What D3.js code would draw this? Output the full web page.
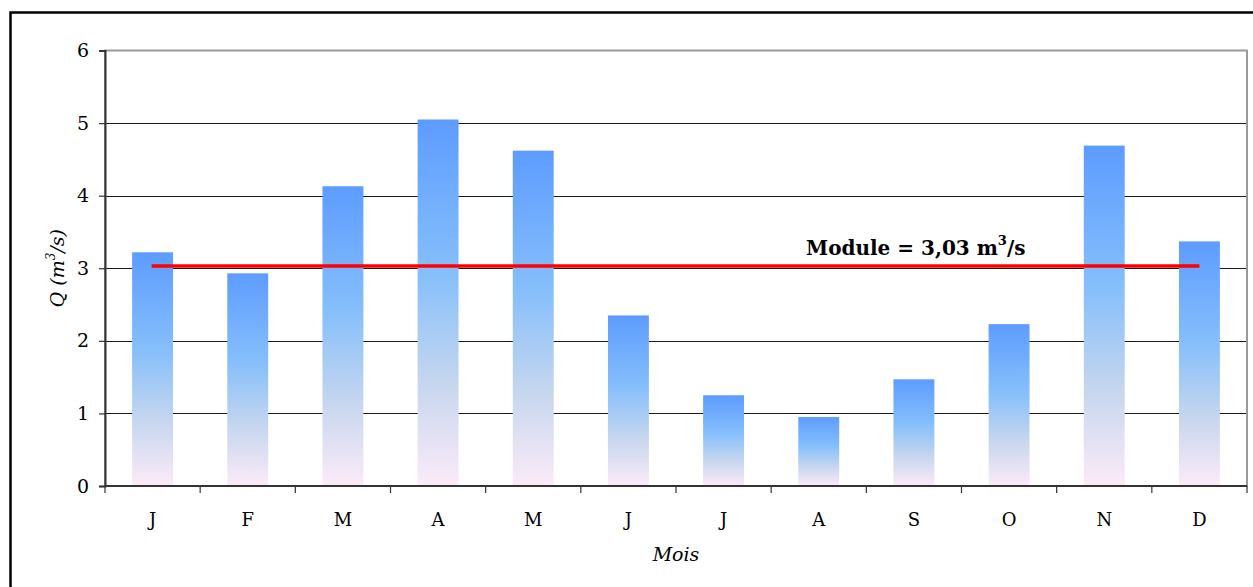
<!DOCTYPE html>
<html>
<head>
<meta charset="utf-8">
<script src="https://cdn.jsdelivr.net/npm/d3@7"></script>
<style>
  html, body { margin: 0; padding: 0; background: #fff; }
  svg { display: block; }
</style>
</head>
<body>
<svg id="chart" width="1253" height="587"></svg>
<script>
// Monthly mean discharge (m³/s)
const months = ["J", "F", "M", "A", "M", "J", "J", "A", "S", "O", "N", "D"];
const discharge = [3.22, 2.93, 4.13, 5.05, 4.62, 2.35, 1.25, 0.95, 1.47, 2.23, 4.69, 3.37];
const moduleValue = 3.03;
const yTicks = [0, 1, 2, 3, 4, 5, 6];

const svg = d3.select("#chart");
const font = "'DejaVu Serif', 'Liberation Serif', serif";

const plotLeft = 105, plotRight = 1247, plotTop = 50.5, plotBottom = 486;

// outer frame (runs past the right and bottom edges)
svg.append("rect")
  .attr("x", 10.5).attr("y", 12.5)
  .attr("width", 1300).attr("height", 700)
  .attr("fill", "none").attr("stroke", "#000").attr("stroke-width", 2.5);

const x = d3.scaleBand()
  .domain(d3.range(months.length))
  .range([plotLeft, plotRight])
  .paddingInner(0.57).paddingOuter(0.285);

const xOuter = d3.scaleBand()
  .domain(d3.range(months.length))
  .range([plotLeft, plotRight]);

const y = d3.scaleLinear().domain([0, 6]).range([plotBottom, plotTop]);

// bar gradient
const defs = svg.append("defs");
const grad = defs.append("linearGradient")
  .attr("id", "barFill").attr("x1", 0).attr("y1", 0).attr("x2", 0).attr("y2", 1);
[[0, "#5d9cff"], [0.42, "#86bffb"], [0.72, "#c6d6ee"], [1, "#fcebf8"]].forEach(([o, c]) => {
  grad.append("stop").attr("offset", o).attr("stop-color", c);
});

// plot area border
svg.append("rect")
  .attr("x", plotLeft).attr("y", plotTop)
  .attr("width", plotRight - plotLeft).attr("height", plotBottom - plotTop)
  .attr("fill", "none").attr("stroke", "#999").attr("stroke-width", 2);

// horizontal gridlines
svg.append("g")
  .selectAll("line")
  .data(yTicks.filter(d => d > 0 && d < 6))
  .join("line")
  .attr("x1", plotLeft).attr("x2", plotRight - 1)
  .attr("y1", d => Math.round(y(d)) + 0.5).attr("y2", d => Math.round(y(d)) + 0.5)
  .attr("stroke", "#1a1a1a").attr("stroke-width", 1.2);

// bars
svg.append("g")
  .selectAll("rect")
  .data(discharge)
  .join("rect")
  .attr("x", (d, i) => x(i))
  .attr("width", x.bandwidth())
  .attr("y", d => y(d))
  .attr("height", d => y(0) - y(d))
  .attr("fill", "url(#barFill)");

// Y axis
const yAxis = svg.append("g")
  .attr("transform", `translate(${plotLeft},0)`)
  .call(d3.axisLeft(y).tickValues(yTicks).tickSize(6).tickPadding(10).tickFormat(d3.format("d")));
yAxis.select(".domain").attr("stroke", "#333").attr("stroke-width", 2);
yAxis.selectAll(".tick line").attr("stroke", "#333").attr("stroke-width", 1.2);
yAxis.selectAll(".tick text")
  .attr("font-family", font).attr("font-size", 19).attr("fill", "#000");

// X axis: ticks at category boundaries
const xAxisG = svg.append("g").attr("transform", `translate(0,${plotBottom})`);
xAxisG.append("line")
  .attr("x1", plotLeft).attr("x2", plotRight)
  .attr("stroke", "#333").attr("stroke-width", 2);
const boundaries = d3.range(months.length + 1).map(i => i < months.length ? xOuter(i) : plotRight);
xAxisG.selectAll(".bt")
  .data(boundaries)
  .join("line")
  .attr("class", "bt")
  .attr("x1", d => d).attr("x2", d => d)
  .attr("y1", 0).attr("y2", 7)
  .attr("stroke", "#333").attr("stroke-width", 1.2);
xAxisG.selectAll(".lbl")
  .data(months)
  .join("text")
  .attr("class", "lbl")
  .attr("x", (d, i) => xOuter(i) + xOuter.bandwidth() / 2)
  .attr("y", 40)
  .attr("text-anchor", "middle")
  .attr("font-family", font).attr("font-size", 18).attr("fill", "#000")
  .text(d => d);

// module line
const modLine = d3.line()
  .x(d => d[0]).y(d => d[1]);
const cx0 = xOuter(0) + xOuter.bandwidth() / 2;
const cx1 = xOuter(months.length - 1) + xOuter.bandwidth() / 2;
svg.append("path")
  .attr("d", modLine([[cx0 - 1, y(moduleValue)], [cx1, y(moduleValue)]]))
  .attr("stroke", "#ff0000").attr("stroke-width", 3.5).attr("fill", "none");

// module label
const modText = svg.append("text")
  .attr("x", 806).attr("y", y(moduleValue) - 11)
  .attr("font-family", font).attr("font-size", 20).attr("font-weight", "bold").attr("fill", "#000");
modText.append("tspan").text(`Module = ${String(moduleValue.toFixed(2)).replace(".", ",")} m`);
modText.append("tspan").attr("dy", -10).attr("font-size", 13).text("3");
modText.append("tspan").attr("dy", 10).text("/s");

// axis titles
const yTitle = svg.append("text")
  .attr("transform", `translate(64,${(plotTop + plotBottom) / 2}) rotate(-90)`)
  .attr("text-anchor", "middle")
  .attr("font-family", font).attr("font-size", 19).attr("font-style", "italic").attr("fill", "#000");
yTitle.append("tspan").text("Q (m");
yTitle.append("tspan").attr("dy", -9).attr("font-size", 12).text("3");
yTitle.append("tspan").attr("dy", 9).text("/s)");

svg.append("text")
  .attr("x", (plotLeft + plotRight) / 2).attr("y", 561)
  .attr("text-anchor", "middle")
  .attr("font-family", font).attr("font-size", 19).attr("font-style", "italic").attr("fill", "#000")
  .text("Mois");
</script>
</body>
</html>
